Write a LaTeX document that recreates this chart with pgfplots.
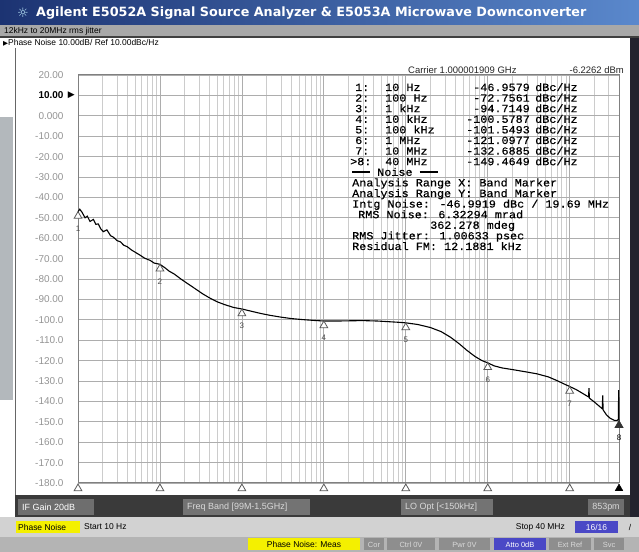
\documentclass[border=0pt]{standalone}
\usepackage{pgfplots}
\pgfplotsset{compat=1.18}
\usepackage{fontspec}
\setmainfont{Liberation Sans}
\newfontfamily\scrmono[FakeStretch=1.075,FakeBold=0.4]{Liberation Mono}
\newfontfamily\dejavu{DejaVu Sans}
\definecolor{titleA}{HTML}{1C3372}
\definecolor{titleB}{HTML}{5A88CC}
\definecolor{rowgray}{HTML}{A8A8A8}
\definecolor{panelgray}{HTML}{B3B8BC}
\definecolor{uidark}{HTML}{3A3A3A}
\definecolor{uibox}{HTML}{6E6E6E}
\definecolor{darkbar}{HTML}{22222E}
\definecolor{lowrow}{HTML}{D2D2D2}
\definecolor{btnrow}{HTML}{B4B4B4}
\definecolor{btn}{HTML}{8E8E8E}
\definecolor{btnblue}{HTML}{4A48C6}
\definecolor{hiyel}{HTML}{F4F000}
\begin{document}
\begin{tikzpicture}[x=1bp,y=1bp]
\useasboundingbox (0,0) rectangle (639,552);
\fill[white] (0,0) rectangle (639,552);
% title bar
\shade[left color=titleA,right color=titleB] (0,527) rectangle (639,551);
\node[text=cyan!25,font=\dejavu\fontsize{13}{13}\selectfont,inner sep=0] at (23,539) {☼};
\node[anchor=west,text=white,font=\dejavu\bfseries\fontsize{12.8}{12.8}\selectfont,inner sep=0] at (36,539) {Agilent E5052A Signal Source Analyzer \& E5053A Microwave Downconverter};
\fill[rowgray] (0,515.5) rectangle (639,527);
\node[anchor=west,font=\fontsize{8.5}{8.5}\selectfont,inner sep=0] at (4,521) {12kHz to 20MHz rms jitter};
\fill[black!75] (0,514) rectangle (639,515.7);
\node[anchor=west,font=\fontsize{8.5}{8.5}\selectfont,inner sep=0] at (3,509) {{\dejavu\fontsize{6.5}{6.5}\selectfont ▶}Phase Noise 10.00dB/ Ref 10.00dBc/Hz};
% side panels
\fill[panelgray] (0,152) rectangle (13,435);
\fill[black!60] (14.5,35) rectangle (16,504);
\fill[darkbar] (630,35) rectangle (639,514);
% bottom bar
\fill[uidark] (14.5,35) rectangle (630,57);
\fill[uibox] (18,37) rectangle (94,53);
\node[anchor=west,text=white,font=\fontsize{9}{9}\selectfont,inner sep=0] at (22,45) {IF Gain 20dB};
\fill[black!55] (183,37) rectangle (310,53);
\node[anchor=west,text=white!85!black,font=\fontsize{9}{9}\selectfont,inner sep=0] at (187,45) {Freq Band [99M-1.5GHz]};
\fill[black!55] (401,37) rectangle (493,53);
\node[anchor=west,text=white!85!black,font=\fontsize{9}{9}\selectfont,inner sep=0] at (405,45) {LO Opt [<150kHz]};
\fill[uibox] (588,37) rectangle (624,53);
\node[text=white!85!black,font=\fontsize{9}{9}\selectfont,inner sep=0] at (606,45) {853pm};
% status row
\fill[lowrow] (0,15) rectangle (639,35);
\fill[hiyel] (16,19) rectangle (80,31);
\node[anchor=west,font=\fontsize{8.5}{8.5}\selectfont,inner sep=0] at (18,25) {Phase Noise};
\node[anchor=west,font=\fontsize{8.5}{8.5}\selectfont,inner sep=0] at (84,25) {Start 10 Hz};
\node[anchor=east,font=\fontsize{8.5}{8.5}\selectfont,inner sep=0] at (565,25) {Stop 40 MHz};
\fill[btnblue] (575,19) rectangle (618,31);
\node[text=white,font=\fontsize{8.5}{8.5}\selectfont,inner sep=0] at (596.5,25) {16/16};
\node[font=\fontsize{8.5}{8.5}\selectfont,inner sep=0] at (630,25) {/};
% button row
\fill[btnrow] (0,0) rectangle (639,15);
\fill[hiyel] (248,1.5) rectangle (360,13.5);
\node[font=\fontsize{8.5}{8.5}\selectfont,inner sep=0] at (304,7.5) {Phase Noise: Meas};
\fill[btn] (364,1.5) rectangle (384,13.5);
\node[text=white!85!black,font=\fontsize{7.5}{7.5}\selectfont,inner sep=0] at (374,7.5) {Cor};
\fill[btn] (387,1.5) rectangle (435,13.5);
\node[text=white!85!black,font=\fontsize{7.5}{7.5}\selectfont,inner sep=0] at (411,7.5) {Ctrl 0V};
\fill[btn] (439,1.5) rectangle (490,13.5);
\node[text=white!85!black,font=\fontsize{7.5}{7.5}\selectfont,inner sep=0] at (464.5,7.5) {Pwr 0V};
\fill[btnblue] (494,1.5) rectangle (546,13.5);
\node[text=white,font=\fontsize{7.5}{7.5}\selectfont,inner sep=0] at (520,7.5) {Atto 0dB};
\fill[btn] (549,1.5) rectangle (591,13.5);
\node[text=white!85!black,font=\fontsize{7.5}{7.5}\selectfont,inner sep=0] at (570,7.5) {Ext Ref};
\fill[btn] (594,1.5) rectangle (624,13.5);
\node[text=white!85!black,font=\fontsize{7.5}{7.5}\selectfont,inner sep=0] at (609,7.5) {Svc};

\begin{axis}[
  at={(78bp,69bp)}, anchor=south west, scale only axis,
  width=541bp, height=408bp,
  xmode=log, xmin=10, xmax=4e7, ymin=-180, ymax=20,
  xtick={10,100,1000,10000,100000,1000000,10000000}, xticklabels={},
  minor xtick={20,30,40,50,60,70,80,90,200,300,400,500,600,700,800,900,
    2000,3000,4000,5000,6000,7000,8000,9000,2e4,3e4,4e4,5e4,6e4,7e4,8e4,9e4,
    2e5,3e5,4e5,5e5,6e5,7e5,8e5,9e5,2e6,3e6,4e6,5e6,6e6,7e6,8e6,9e6,2e7,3e7},
  ytick={-180,-170,...,20},
  yticklabels={-180.0,-170.0,-160.0,-150.0,-140.0,-130.0,-120.0,-110.0,-100.0,-90.00,-80.00,-70.00,-60.00,-50.00,-40.00,-30.00,-20.00,-10.00,0.000,{\textbf{\color{black}10.00}},20.00},
  grid=both,
  major grid style={draw=black!32, line width=0.7bp},
  minor grid style={draw=black!20, line width=0.6bp},
  tick style={draw=none},
  axis line style={draw=black!50, line width=1bp},
  yticklabel style={font=\fontsize{10}{10}\selectfont, text=black!42, xshift=-11bp},
  /pgf/number format/assume math mode=true,
  clip=false,
]
\addplot[black, line width=1.1bp] coordinates {
(10,-47.0) (10.5,-45.8) (11.2,-47.3) (12.2,-50.0) (13,-49.2) (14,-51.8) (15.4,-50.8)
(16.5,-53.2) (17.7,-53.0) (19,-55.5) (20.4,-56.8) (22.5,-55.9) (25,-58.8) (27,-59.5)
(30,-61.2) (33,-61.8) (36,-63.4) (40,-64.2) (45,-65.8) (50,-66.9) (57,-68.3) (65,-69.8)
(76,-70.9) (85,-72.2) (100,-72.8) (115,-74.5) (130,-76.2) (150,-77.6) (180,-80.0)
(220,-82.4) (270,-84.8) (330,-87.2) (400,-89.2) (500,-91.2) (620,-92.6) (800,-94.0)
(1000,-94.7) (1300,-95.8) (1700,-96.9) (2200,-97.8) (3000,-98.7) (4000,-99.4)
(5500,-99.9) (7500,-100.3) (10000,-100.6) (15000,-100.6) (20000,-100.5) (30000,-100.4)
(45000,-100.6) (60000,-100.9) (80000,-101.2) (100000,-101.5) (140000,-102.3)
(200000,-103.8) (270000,-105.8) (350000,-108.5) (450000,-111.8) (550000,-114.8)
(700000,-118.0) (850000,-120.0) (1000000,-121.1) (1200000,-122.6) (1500000,-123.6)
(2000000,-124.4) (3000000,-125.6) (4000000,-126.5) (5500000,-128.0) (7000000,-129.8)
(8500000,-131.4) (10000000,-132.7) (12000000,-134.2) (14000000,-135.8) (16000000,-137.2)
(17000000,-137.8) (17200000,-133.5) (17400000,-138.4) (20000000,-140.3) (24000000,-143.0)
(25000000,-143.6) (25300000,-137.0) (25600000,-144.2) (28000000,-146.5) (31000000,-148.2)
(35000000,-149.3) (38000000,-149.3) (39300000,-148.8) (39600000,-134.5) (39800000,-148.5)
(40000000,-149.46)
};
\addplot[only marks, mark=triangle*, mark size=4.5,
  mark options={fill=white, draw=black!65, line width=0.8bp, yshift=-4.5bp},
  nodes near coords, point meta=explicit symbolic,
  every node near coord/.style={anchor=north, yshift=-9bp, inner sep=0.5bp, font=\fontsize{8}{8}\selectfont, text=black!70}]
  coordinates {(10,-46.96)[1] (100,-72.76)[2] (1000,-94.71)[3] (10000,-100.58)[4]
  (100000,-101.55)[5] (1000000,-121.10)[6] (10000000,-132.69)[7]};
\addplot[only marks, mark=triangle*, mark size=4.5,
  mark options={fill=black!80, draw=black!80, line width=0.8bp, yshift=-4.5bp},
  nodes near coords, point meta=explicit symbolic,
  every node near coord/.style={anchor=north, yshift=-9bp, inner sep=0.5bp, font=\fontsize{8}{8}\selectfont, text=black}]
  coordinates {(40000000,-149.46)[8]};
% marker position row below the grid
\addplot[only marks, mark=triangle*, mark size=4.5,
  mark options={fill=white, draw=black!65, line width=0.8bp, yshift=-4.5bp}]
  coordinates {(10,-180.5) (100,-180.5) (1000,-180.5) (10000,-180.5) (100000,-180.5)
  (1000000,-180.5) (10000000,-180.5)};
\addplot[only marks, mark=triangle*, mark size=4.5,
  mark options={fill=black, draw=black, yshift=-4.5bp}]
  coordinates {(40000000,-180.5)};
\node[anchor=east, inner sep=0, xshift=-3bp, font=\dejavu\fontsize{9}{9}\selectfont] at (rel axis cs:0,0.95) {▶};
\end{axis}
% marker table
\node[anchor=west,font=\fontsize{9.5}{9.5}\selectfont,inner sep=0,text=black!85] at (408,482) {Carrier 1.000001909 GHz};
\node[anchor=east,font=\fontsize{9.5}{9.5}\selectfont,inner sep=0,text=black!85] at (624,482) {-6.2262 dBm};
\begin{scope}[every node/.style={inner sep=0, text height=7.5bp, text depth=1.5bp, font=\scrmono\fontsize{11}{11}\selectfont}]
\node[anchor=west] at (355,464) {1:};   \node[anchor=west] at (385,464) {10 Hz};   \node[anchor=east] at (530,464) {-46.9579};  \node[anchor=west] at (535,464) {dBc/Hz};
\node[anchor=west] at (355,453.4) {2:}; \node[anchor=west] at (385,453.4) {100 Hz}; \node[anchor=east] at (530,453.4) {-72.7561}; \node[anchor=west] at (535,453.4) {dBc/Hz};
\node[anchor=west] at (355,442.8) {3:}; \node[anchor=west] at (385,442.8) {1 kHz};  \node[anchor=east] at (530,442.8) {-94.7149}; \node[anchor=west] at (535,442.8) {dBc/Hz};
\node[anchor=west] at (355,432.2) {4:}; \node[anchor=west] at (385,432.2) {10 kHz}; \node[anchor=east] at (530,432.2) {-100.5787}; \node[anchor=west] at (535,432.2) {dBc/Hz};
\node[anchor=west] at (355,421.6) {5:}; \node[anchor=west] at (385,421.6) {100 kHz}; \node[anchor=east] at (530,421.6) {-101.5493}; \node[anchor=west] at (535,421.6) {dBc/Hz};
\node[anchor=west] at (355,411) {6:}; \node[anchor=west] at (385,411) {1 MHz};  \node[anchor=east] at (530,411) {-121.0977}; \node[anchor=west] at (535,411) {dBc/Hz};
\node[anchor=west] at (355,400.4) {7:}; \node[anchor=west] at (385,400.4) {10 MHz}; \node[anchor=east] at (530,400.4) {-132.6885}; \node[anchor=west] at (535,400.4) {dBc/Hz};
\node[anchor=west] at (350,389.8) {>8:}; \node[anchor=west] at (385,389.8) {40 MHz}; \node[anchor=east] at (530,389.8) {-149.4649}; \node[anchor=west] at (535,389.8) {dBc/Hz};
\node[anchor=west] at (352,379.2) {\rule[0.3em]{18bp}{1.3bp} Noise \rule[0.3em]{18bp}{1.3bp}};
\node[anchor=west] at (352,368.6) {Analysis Range X: Band Marker};
\node[anchor=west] at (352,358) {Analysis Range Y: Band Marker};
\node[anchor=west] at (352,347.4) {Intg Noise: -46.9919 dBc / 19.69 MHz};
\node[anchor=west] at (358,336.8) {RMS Noise: 6.32294 mrad};
\node[anchor=west] at (430,326.2) {362.278 mdeg};
\node[anchor=west] at (352,315.6) {RMS Jitter: 1.00633 psec};
\node[anchor=west] at (352,305) {Residual FM: 12.1881 kHz};
\end{scope}
\end{tikzpicture}
\end{document}
